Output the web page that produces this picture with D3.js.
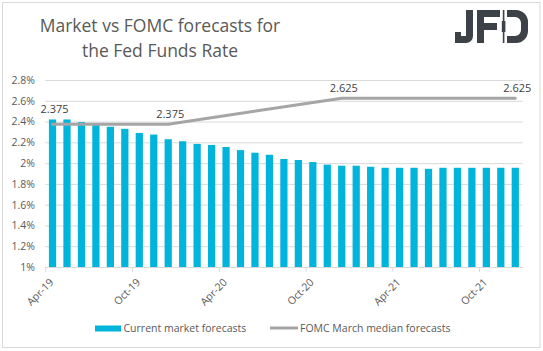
<!DOCTYPE html>
<html>
<head>
<meta charset="utf-8">
<script src="https://cdn.jsdelivr.net/npm/d3@7"></script>
<style>
  html, body { margin: 0; padding: 0; background: #ffffff; }
  svg { display: block; }
  text { font-family: "Open Sans", "Noto Sans", sans-serif; }
</style>
</head>
<body>
<svg id="chart" width="543" height="351"></svg>
<script>
// ---------------- data ----------------
const categories = [
  "Apr-19","May-19","Jun-19","Jul-19","Aug-19","Sep-19","Oct-19","Nov-19","Dec-19",
  "Jan-20","Feb-20","Mar-20","Apr-20","May-20","Jun-20","Jul-20","Aug-20","Sep-20",
  "Oct-20","Nov-20","Dec-20","Jan-21","Feb-21","Mar-21","Apr-21","May-21","Jun-21",
  "Jul-21","Aug-21","Sep-21","Oct-21","Nov-21","Dec-21"
];
const marketForecasts = [
  2.42, 2.42, 2.395, 2.375, 2.35, 2.33, 2.29, 2.275, 2.23,
  2.21, 2.185, 2.175, 2.155, 2.125, 2.10, 2.08, 2.04, 2.03,
  2.01, 1.985, 1.975, 1.975, 1.965, 1.955, 1.955, 1.955, 1.945,
  1.955, 1.955, 1.955, 1.955, 1.955, 1.955
];
// FOMC median projections (only defined at the projection points)
const fomcForecasts = [
  2.375, null, null, null, null, null, null, null, 2.375,
  null, null, null, null, null, null, null, null, null,
  null, null, 2.625, null, null, null, null, null, null,
  null, null, null, null, null, 2.625
];
const fomcLabels = ["2.375", null, null, null, null, null, null, null, "2.375",
  null, null, null, null, null, null, null, null, null,
  null, null, "2.625", null, null, null, null, null, null,
  null, null, null, null, null, "2.625"];
const yTicks = [1.0, 1.2, 1.4, 1.6, 1.8, 2.0, 2.2, 2.4, 2.6, 2.8];
const xTickLabels = ["Apr-19", "Oct-19", "Apr-20", "Oct-20", "Apr-21", "Oct-21"];
const seriesNames = ["Current market forecasts", "FOMC March median forecasts"];
const titleLines = ["Market vs FOMC forecasts for", "the Fed Funds Rate"];

// ---------------- layout ----------------
const svg = d3.select("#chart");
const plot = { left: 45.3, right: 522.5, top: 80, bottom: 267 };
const barColor = "#00b4dc";
const lineColor = "#a5a5a5";
const gridColor = "#d9d9d9";
const textColor = "#595959";

// outer border
svg.append("rect")
  .attr("x", 2.5).attr("y", 2.5)
  .attr("width", 537.5).attr("height", 345)
  .attr("fill", "none").attr("stroke", "#d9d9d9").attr("stroke-width", 1);

// title
svg.append("g").selectAll("text").data(titleLines).join("text")
  .attr("x", 160).attr("y", (d, i) => 32 + i * 25)
  .attr("text-anchor", "middle")
  .attr("font-size", 17.5)
  .attr("fill", textColor)
  .text(d => d);

// logo JFD
const logo = svg.append("g").attr("fill", "#3d4249");
logo.append("path").attr("d",
  "M466,10 H473 V36 A7,7 0 0 1 466,43 H455 V32 H461 V36 H466 Z");
logo.append("path").attr("d",
  "M477,10 H500 V17 H484 V23 H497 V30 H484 V43 H477 Z");
logo.append("rect").attr("x", 502.8).attr("y", 10).attr("width", 1.6).attr("height", 33);
logo.append("rect").attr("x", 501.8).attr("y", 21).attr("width", 3.6).attr("height", 11);
logo.append("path").attr("d",
  "M507,10 H516 A12,12 0 0 1 528,22 V31 A12,12 0 0 1 516,43 H507 V36 H515 A6,6 0 0 0 521,30 V23 A6,6 0 0 0 515,17 H507 Z");

// scales
const x = d3.scaleBand()
  .domain(categories)
  .range([plot.left, plot.right])
  .paddingInner(0.5)
  .paddingOuter(0.25);
const step = x.step();
const y = d3.scaleLinear().domain([1, 2.8]).range([plot.bottom, plot.top]);

// gridlines + y labels
const yAxis = d3.axisLeft(y)
  .tickValues(yTicks)
  .tickSize(-(plot.right - plot.left))
  .tickPadding(10)
  .tickFormat(d => d3.format("~g")(+d.toFixed(1)) + "%");
const yg = svg.append("g")
  .attr("transform", `translate(${plot.left},0)`)
  .call(yAxis);
yg.select(".domain").remove();
yg.selectAll(".tick line").attr("stroke", gridColor).attr("stroke-width", 1);
yg.selectAll(".tick text")
  .attr("fill", textColor)
  .attr("font-size", 10.5)
  .attr("font-family", "'Open Sans', sans-serif")
  .attr("x", 35 - plot.left);

// bars
svg.append("g").selectAll("rect").data(marketForecasts).join("rect")
  .attr("x", (d, i) => x(categories[i]))
  .attr("width", x.bandwidth())
  .attr("y", d => y(d))
  .attr("height", d => y(1) - y(d))
  .attr("fill", barColor);

// x axis
const xAxis = d3.axisBottom(x)
  .tickValues(xTickLabels)
  .tickSize(5)
  .tickSizeOuter(0);
const xg = svg.append("g")
  .attr("transform", `translate(0,${plot.bottom})`)
  .call(xAxis);
xg.select(".domain").attr("stroke", gridColor).attr("d",
  `M${plot.left},0.5H${plot.right}`);
xg.selectAll(".tick").each(function(d) {
  const t = d3.select(this);
  t.select("line").attr("x1", -step / 2 + 0.5).attr("x2", -step / 2 + 0.5)
    .attr("stroke", gridColor);
  t.select("text")
    .attr("x", 0).attr("y", 0).attr("dy", 0)
    .attr("text-anchor", "end")
    .attr("transform", `translate(${-step / 2 + 9},16) rotate(-45)`)
    .attr("fill", textColor)
    .attr("font-size", 10.5)
    .attr("font-family", "'Open Sans', sans-serif");
});

// FOMC line (connect defined points)
const fomcPts = fomcForecasts
  .map((v, i) => ({ i, v }))
  .filter(p => p.v !== null);
const line = d3.line()
  .x(p => x(categories[p.i]) + x.bandwidth() / 2)
  .y(p => y(p.v));
svg.append("path")
  .datum(fomcPts)
  .attr("d", line)
  .attr("fill", "none")
  .attr("stroke", lineColor)
  .attr("stroke-width", 3)
  .attr("stroke-linecap", "round")
  .attr("stroke-linejoin", "round");

// data labels
svg.append("g").selectAll("text")
  .data(fomcPts.filter(p => fomcLabels[p.i]))
  .join("text")
  .attr("x", p => x(categories[p.i]) + x.bandwidth() / 2 + 2)
  .attr("y", p => Math.min(y(p.v), y(marketForecasts[p.i])) - 6)
  .attr("text-anchor", "middle")
  .attr("font-size", 11)
  .attr("fill", "#404040")
  .text(p => fomcLabels[p.i]);

// legend
const lg = svg.append("g");
lg.append("rect").attr("x", 95).attr("y", 325.5).attr("width", 26).attr("height", 6)
  .attr("fill", barColor);
lg.append("text").attr("x", 123.5).attr("y", 331.5)
  .attr("font-size", 10.5).attr("fill", textColor).text(seriesNames[0]);
lg.append("line").attr("x1", 270).attr("x2", 298).attr("y1", 328).attr("y2", 328)
  .attr("stroke", lineColor).attr("stroke-width", 3);
lg.append("text").attr("x", 300).attr("y", 331.5)
  .attr("font-size", 10.5).attr("fill", textColor).text(seriesNames[1]);
</script>
</body>
</html>
